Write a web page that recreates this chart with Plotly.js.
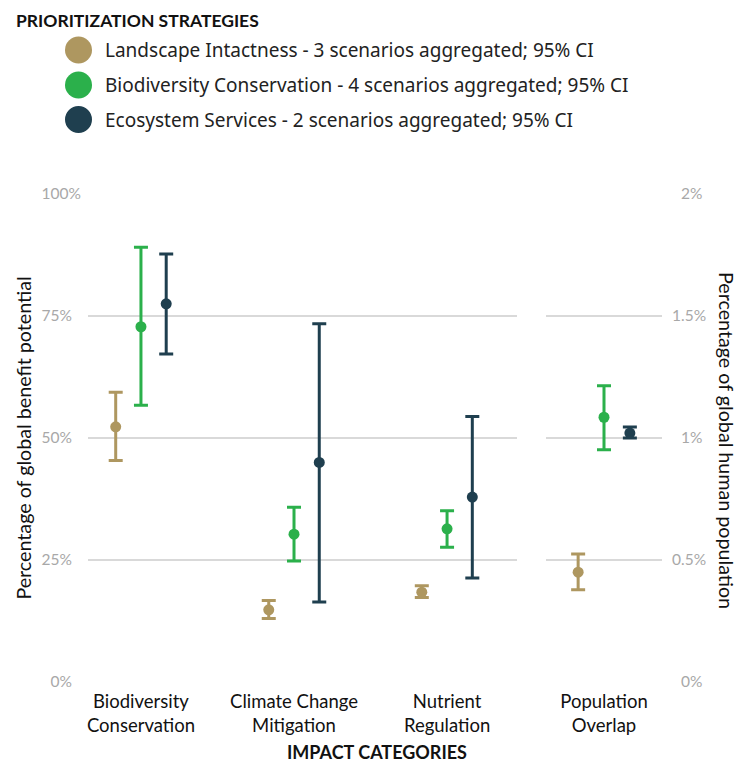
<!DOCTYPE html>
<html>
<head>
<meta charset="utf-8">
<script src="https://cdn.plot.ly/plotly-3.0.1.min.js"></script>
<style>html,body{margin:0;padding:0;background:#fff;}</style>
</head>
<body>
<div id="chart" style="width:743px;height:764px;"></div>
<script>
// ---- data ----
const categories = ['Biodiversity<br>Conservation', 'Climate Change<br>Mitigation', 'Nutrient<br>Regulation'];
const popCategory = ['Population<br>Overlap'];
const seriesNames = [
  'Landscape Intactness - 3 scenarios aggregated; 95% CI',
  'Biodiversity Conservation - 4 scenarios aggregated; 95% CI',
  'Ecosystem Services - 2 scenarios aggregated; 95% CI'
];
const seriesColors = ['#ae9760', '#2bb04b', '#1f3f4f'];

// benefit potential (%) : mean, lower CI, upper CI
const liMean = [52.3, 14.8, 18.4];
const liLow  = [45.4, 13.0, 17.3];
const liHigh = [59.4, 16.7, 19.7];

const bcMean = [72.8, 30.3, 31.4];
const bcLow  = [56.7, 24.8, 27.6];
const bcHigh = [89.1, 35.8, 35.1];

const esMean = [77.5, 45.0, 37.9];
const esLow  = [67.2, 16.4, 21.3];
const esHigh = [87.7, 73.4, 54.4];

// population overlap (% of global human population)
const popMean = [0.45, 1.085, 1.02];
const popLow  = [0.378, 0.952, 1.0];
const popHigh = [0.525, 1.214, 1.045];

const FS = '\u2007'; // figure space, used to centre the tick labels
const leftTicks = [0, 25, 50, 75, 100];
const leftTickText = ['0%' + FS, '25%' + FS, '50%' + FS, '75%' + FS, '100%'];
const rightTicks = [0, 0.5, 1, 1.5, 2];
const rightTickText = [FS + '0%', '0.5%', FS + '1%', '1.5%', FS + '2%'];

// ---- traces ----
const groups = ['li', 'bc', 'es'];
const means = [liMean, bcMean, esMean];
const lows = [liLow, bcLow, esLow];
const highs = [liHigh, bcHigh, esHigh];

function mk(x, m, lo, hi, i, xa, ya) {
  return {
    type: 'scatter', mode: 'markers',
    x: x, y: m, xaxis: xa, yaxis: ya,
    name: seriesNames[i], showlegend: false,
    offsetgroup: groups[i],
    marker: {color: seriesColors[i], size: 11},
    error_y: {
      type: 'data', symmetric: false,
      array: m.map((v, k) => hi[k] - v),
      arrayminus: m.map((v, k) => v - lo[k]),
      color: seriesColors[i], thickness: 3, width: 7
    },
    hoverinfo: 'x+y'
  };
}

const traces = [];
for (let i = 0; i < 3; i++) {
  traces.push(mk(categories, means[i], lows[i], highs[i], i, 'x', 'y'));
}
for (let i = 0; i < 3; i++) {
  traces.push(mk(popCategory, [popMean[i]], [popLow[i]], [popHigh[i]], i, 'x2', 'y2'));
}

// ---- layout ----
const W = 743, H = 764;
const M = {l: 88, r: 81, t: 194, b: 82};
const pw = W - M.l - M.r, ph = H - M.t - M.b;
const px = v => (v - M.l) / pw;
const py = v => (H - M.b - v) / ph;

const axisFont = {family: 'Lato, sans-serif', size: 18.5, color: '#111'};
const titleFont = {family: 'Lato, sans-serif', size: 19.7, color: '#111'};
const tickGrey = {family: 'Lato, sans-serif', size: 15.5, color: '#a8a8a8'};

const shapes = [], annotations = [];
const rowY = [50, 85, 119.5];
for (let i = 0; i < 3; i++) {
  shapes.push({
    type: 'circle', xref: 'paper', yref: 'paper',
    xsizemode: 'pixel', ysizemode: 'pixel',
    xanchor: px(78.5), yanchor: py(rowY[i]),
    x0: -13.5, x1: 13.5, y0: -13.5, y1: 13.5,
    fillcolor: seriesColors[i], line: {width: 0}
  });
  annotations.push({
    xref: 'paper', yref: 'paper', x: px(103), y: py(rowY[i]),
    xanchor: 'left', yanchor: 'middle', showarrow: false,
    text: seriesNames[i],
    font: {family: 'Noto Sans, sans-serif', size: 19, color: '#222'}
  });
}
annotations.push({
  xref: 'paper', yref: 'paper', x: px(14), y: py(20),
  xanchor: 'left', yanchor: 'middle', showarrow: false,
  text: '<b>PRIORITIZATION STRATEGIES</b>',
  font: {family: 'Lato, sans-serif', size: 17.5, color: '#111', weight: 900}
});
annotations.push({
  xref: 'paper', yref: 'paper', x: px(377), y: py(751.5),
  xanchor: 'center', yanchor: 'middle', showarrow: false,
  text: '<b>IMPACT CATEGORIES</b>',
  font: {family: 'Lato, sans-serif', size: 18, color: '#111', weight: 900}
});
annotations.push({
  xref: 'paper', yref: 'paper', x: px(727), y: py(440),
  xanchor: 'center', yanchor: 'middle', showarrow: false, textangle: 90,
  text: 'Percentage of global human population',
  font: titleFont
});

const layout = {
  width: W, height: H,
  margin: M,
  paper_bgcolor: '#fff', plot_bgcolor: '#fff',
  showlegend: false,
  scattermode: 'group',
  scattergap: 0.505,
  xaxis: {
    domain: [0, px(517)], anchor: 'y',
    type: 'category', range: [-0.346, 2.457],
    showgrid: false, zeroline: false, showline: false, ticks: '',
    tickfont: axisFont, ticklabelstandoff: 6, fixedrange: true
  },
  yaxis: {
    domain: [0, 1], anchor: 'x',
    range: [0, 100], tickvals: leftTicks, ticktext: leftTickText,
    showgrid: true, gridcolor: '#d9d9d9', gridwidth: 1.5,
    zeroline: false, showline: false, ticks: '',
    tickfont: tickGrey, ticklabelstandoff: 6,
    title: {text: 'Percentage of global benefit potential', font: titleFont, standoff: 4},
    fixedrange: true
  },
  xaxis2: {
    domain: [px(546), 1], anchor: 'y2',
    type: 'category', range: [-0.37, 0.37],
    showgrid: false, zeroline: false, showline: false, ticks: '',
    tickfont: axisFont, ticklabelstandoff: 6, fixedrange: true
  },
  yaxis2: {
    domain: [0, 1], anchor: 'x2', side: 'right',
    range: [0, 2], tickvals: rightTicks, ticktext: rightTickText,
    showgrid: true, gridcolor: '#d9d9d9', gridwidth: 1.5,
    zeroline: false, showline: false, ticks: '',
    tickfont: tickGrey, ticklabelstandoff: 9,
    fixedrange: true
  },
  shapes: shapes,
  annotations: annotations
};

Plotly.newPlot('chart', traces, layout, {displayModeBar: false, staticPlot: true});
</script>
</body>
</html>
